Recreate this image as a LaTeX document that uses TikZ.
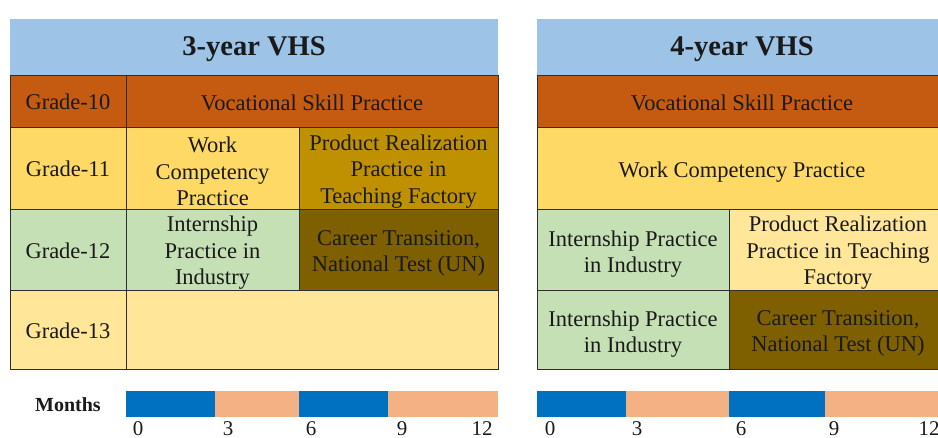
\documentclass[tikz,border=0pt]{standalone}
\usepackage{fontspec}
\setmainfont{Liberation Serif}
\definecolor{hdrblue}{HTML}{9DC3E6}
\definecolor{orangeC}{HTML}{C55A11}
\definecolor{yellowC}{HTML}{FFD966}
\definecolor{goldC}{HTML}{BF9000}
\definecolor{greenC}{HTML}{C5E0B4}
\definecolor{brownC}{HTML}{7F6000}
\definecolor{lightY}{HTML}{FFE699}
\definecolor{barblue}{HTML}{0070C0}
\definecolor{salmon}{HTML}{F4B183}
\definecolor{txt}{HTML}{1A1A1A}
\definecolor{rule}{HTML}{2E2E2E}
\tikzset{
  cell/.style={draw=rule, line width=0.9pt, inner sep=0pt},
  ctext/.style={inner sep=0pt, align=center, text=txt, font=\fontsize{22.5}{26.5}\selectfont},
  hdr/.style={fill=hdrblue, inner sep=0pt},
  htext/.style={inner sep=0pt, anchor=base, text=txt, font=\fontsize{28.5}{32}\selectfont\bfseries},
  barseg/.style={inner sep=0pt, minimum height=26pt},
  tick/.style={inner sep=0pt, anchor=base, text=txt, font=\fontsize{21}{24}\selectfont},
}
\begin{document}
\begin{tikzpicture}[x=1pt,y=-1pt]
\useasboundingbox (0,0) rectangle (938,438);
% ---------- 3-year VHS ----------
\node[hdr, minimum width=488pt, minimum height=56pt] (hdrL) at (254,47) {};
\node[htext] (hdrL-t) at (254,55.5) {3-year VHS};
\node[cell, fill=orangeC, minimum width=116pt, minimum height=52pt] (g10) at (68,101) {};
\node[cell, fill=orangeC, minimum width=372pt, minimum height=52pt] (vsp3) at (312,101) {};
\node[cell, fill=yellowC, minimum width=116pt, minimum height=82pt] (g11) at (68,168) {};
\node[cell, fill=yellowC, minimum width=173pt, minimum height=82pt] (wcp3) at (212.5,168) {};
\node[cell, fill=goldC, minimum width=199pt, minimum height=82pt] (prp3) at (398.5,168) {};
\node[cell, fill=greenC, minimum width=116pt, minimum height=81pt] (g12) at (68,249.5) {};
\node[cell, fill=greenC, minimum width=173pt, minimum height=81pt] (ipi3) at (212.5,249.5) {};
\node[cell, fill=brownC, minimum width=199pt, minimum height=81pt] (ctn3) at (398.5,249.5) {};
\node[cell, fill=lightY, minimum width=116pt, minimum height=79pt] (g13) at (68,329.5) {};
\node[cell, fill=lightY, minimum width=372pt, minimum height=79pt] (e13) at (312,329.5) {};
\node[ctext] (g10-t) at ([yshift=-1pt]g10.center) {Grade-10};
\node[ctext] (vsp3-t) at ([yshift=-1.5pt]vsp3.center) {Vocational Skill Practice};
\node[ctext] (g11-t) at ([yshift=-1pt]g11.center) {Grade-11};
\node[ctext] (wcp3-t) at ([yshift=-3.5pt]wcp3.center) {Work\\Competency\\Practice};
\node[ctext] (prp3-t) at ([yshift=-3.5pt]prp3.center) {Product Realization\\Practice in\\Teaching Factory};
\node[ctext] (g12-t) at ([yshift=-1pt]g12.center) {Grade-12};
\node[ctext] (ipi3-t) at ([yshift=-3.5pt]ipi3.center) {Internship\\Practice in\\Industry};
\node[ctext] (ctn3-t) at ([yshift=-4pt]ctn3.center) {Career Transition,\\National Test (UN)};
\node[ctext] (g13-t) at ([yshift=-1pt]g13.center) {Grade-13};
% months bar left
\node[font=\fontsize{20}{24}\selectfont\bfseries, text=txt, inner sep=0pt] (monthsL) at (68,405) {Months};
\node[barseg, fill=barblue, minimum width=89pt] (bL1) at (170.5,404) {};
\node[barseg, fill=salmon, minimum width=84pt] (bL2) at (257,404) {};
\node[barseg, fill=barblue, minimum width=89pt] (bL3) at (343.5,404) {};
\node[barseg, fill=salmon, minimum width=110pt] (bL4) at (443,404) {};
\node[tick] (tL0) at (138,436) {0};
\node[tick] (tL3) at (228,436) {3};
\node[tick] (tL6) at (311,436) {6};
\node[tick] (tL9) at (402,436) {9};
\node[tick] (tL12) at (482,436) {12};
% ---------- 4-year VHS ----------
\node[hdr, minimum width=410pt, minimum height=56pt] (hdrR) at (742,47) {};
\node[htext] (hdrR-t) at (742,55.5) {4-year VHS};
\node[cell, fill=orangeC, minimum width=410pt, minimum height=52pt] (vsp4) at (742,101) {};
\node[cell, fill=yellowC, minimum width=410pt, minimum height=82pt] (wcp4) at (742,168) {};
\node[cell, fill=greenC, minimum width=192pt, minimum height=81pt] (ipi4a) at (633,249.5) {};
\node[cell, fill=lightY, minimum width=218pt, minimum height=81pt] (prp4) at (838,249.5) {};
\node[cell, fill=greenC, minimum width=192pt, minimum height=79pt] (ipi4b) at (633,329.5) {};
\node[cell, fill=brownC, minimum width=218pt, minimum height=79pt] (ctn4) at (838,329.5) {};
\node[ctext] (vsp4-t) at ([yshift=-1.5pt]vsp4.center) {Vocational Skill Practice};
\node[ctext] (wcp4-t) at ([yshift=-4pt]wcp4.center) {Work Competency Practice};
\node[ctext] (ipi4a-t) at ([yshift=-4.5pt]ipi4a.center) {Internship Practice\\in Industry};
\node[ctext] (prp4-t) at ([yshift=-3.5pt]prp4.center) {Product Realization\\Practice in Teaching\\Factory};
\node[ctext] (ipi4b-t) at ([yshift=-4.5pt]ipi4b.center) {Internship Practice\\in Industry};
\node[ctext] (ctn4-t) at ([yshift=-4pt]ctn4.center) {Career Transition,\\National Test (UN)};
% months bar right
\node[barseg, fill=barblue, minimum width=89pt] (bR1) at (581.5,404) {};
\node[barseg, fill=salmon, minimum width=103pt] (bR2) at (677.5,404) {};
\node[barseg, fill=barblue, minimum width=96pt] (bR3) at (777,404) {};
\node[barseg, fill=salmon, minimum width=122pt] (bR4) at (886,404) {};
\node[tick] (tR0) at (550,436) {0};
\node[tick] (tR3) at (637,436) {3};
\node[tick] (tR6) at (741,436) {6};
\node[tick] (tR9) at (834,436) {9};
\node[tick] (tR12) at (929,436) {12};
\end{tikzpicture}
\end{document}
